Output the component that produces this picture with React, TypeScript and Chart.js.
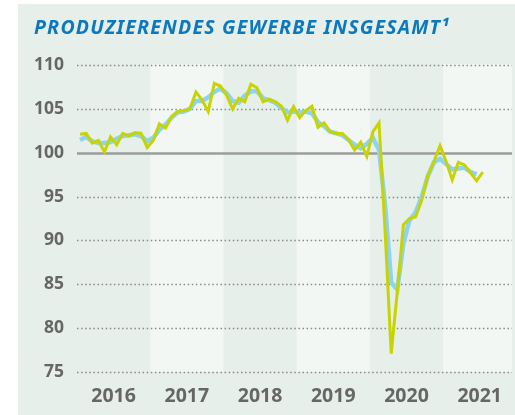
import React, { useEffect, useRef } from "react";
import { Chart, registerables } from "chart.js";

Chart.register(...registerables);

const titleText = "PRODUZIERENDES GEWERBE INSGESAMT¹";
const yearLabels = ["2016", "2017", "2018", "2019", "2020", "2021"];
const yTickValues = [75, 80, 85, 90, 95, 100, 105, 110];

// monthly index values, Jan 2016 – Jul 2021
const productionValues = [
  102.1, 102.2, 101.1, 101.4, 100.1, 101.8, 100.9, 102.2, 101.9, 102.3, 102.2, 100.6,
  101.4, 103.3, 102.8, 104.1, 104.7, 104.8, 105.0, 106.9, 106.0, 104.7, 107.9, 107.6,
  106.6, 105.0, 106.2, 105.8, 107.8, 107.4, 105.8, 106.1, 105.8, 105.3, 103.7, 105.25,
  104.0, 104.8, 105.3, 102.9, 103.4, 102.4, 102.2, 102.2, 101.5, 100.3, 101.2, 99.6,
  102.4, 103.4, 91.0, 77.1, 84.2, 91.8, 92.5, 92.7, 94.6, 97.4, 99.0, 100.8,
  99.0, 96.9, 98.9, 98.6, 97.7, 96.8, 97.8,
];

// smoothed trend, Jan 2016 – Jun 2021
const trendValues = [
  101.45, 101.8, 101.3, 101.1, 101.1, 101.2, 101.6, 101.9, 102.0, 102.1, 101.9, 101.3,
  101.7, 102.6, 103.2, 104.0, 104.6, 104.7, 105.0, 105.9, 105.9, 106.3, 106.95, 107.3,
  106.8, 105.9, 105.7, 106.5, 107.0, 107.0, 106.2, 106.0, 105.7, 105.1, 104.6, 104.7,
  104.6, 104.7, 104.5, 103.5, 103.0, 102.4, 102.2, 102.0, 101.45, 100.9, 100.5, 101.0,
  101.7, 100.3, 94.0, 85.2, 84.4, 89.7, 92.3, 93.2, 95.0, 97.3, 98.9, 99.3,
  98.7, 98.1, 98.2, 98.3, 97.8, 97.55,
];

const PANEL = "#e6efe9";
const BAND = "#f2f7f3";
const TEXT = "#666666";

const backgroundPlugin = {
  id: "bgPlugin",
  beforeDraw(chart: any) {
    const { ctx, chartArea, scales } = chart;
    const xs = scales.x;
    const ys = scales.y;
    ctx.save();
    ctx.fillStyle = PANEL;
    ctx.fillRect(18, 4, chart.width - 18, chart.height - 4);
    // alternating year bands
    yearLabels.forEach((_, i) => {
      if (i % 2 === 1) {
        const x0 = xs.getPixelForValue(i * 12);
        const x1 = Math.min(xs.getPixelForValue(i * 12 + 12), chartArea.right);
        ctx.fillStyle = BAND;
        ctx.fillRect(x0, chartArea.top - 1, x1 - x0, chartArea.bottom - chartArea.top + 1);
      }
    });
    // title
    ctx.fillStyle = "#0b78c0";
    ctx.font = "italic bold 19.5px 'Noto Sans'";
    ctx.textBaseline = "alphabetic";
    ctx.textAlign = "left";
    (ctx as any).letterSpacing = "1.2px";
    ctx.fillText(titleText, 34, 33.5);
    (ctx as any).letterSpacing = "0px";
    // grid lines
    yTickValues.forEach((v) => {
      const y = Math.round(ys.getPixelForValue(v)) + 0.5;
      ctx.beginPath();
      if (v === 100) {
        ctx.setLineDash([]);
        ctx.strokeStyle = "#9c9c9c";
        ctx.lineWidth = 2.5;
      } else {
        ctx.setLineDash([1.5, 2.6]);
        ctx.strokeStyle = "#8a8a8a";
        ctx.lineWidth = 1.5;
      }
      ctx.moveTo(chartArea.left, y);
      ctx.lineTo(chartArea.right, y);
      ctx.stroke();
    });
    ctx.restore();
  },
};

export default function App() {
  const canvasRef = useRef<HTMLCanvasElement | null>(null);

  useEffect(() => {
    if (!canvasRef.current) return;
    const chart = new Chart(canvasRef.current, {
      type: "line",
      data: {
        datasets: [
          {
            label: "Produktion",
            data: productionValues.map((v, i) => ({ x: i + 0.5, y: v })),
            borderColor: "#c8d400",
            borderWidth: 3,
            pointRadius: 0,
            tension: 0,
            fill: false,
          },
          {
            label: "Trend",
            data: trendValues.map((v, i) => ({ x: i + 0.5, y: v })),
            borderColor: "#8dd3f2",
            borderWidth: 4.5,
            pointRadius: 0,
            tension: 0,
            fill: false,
          },
        ],
      },
      options: {
        animation: false,
        responsive: false,
        layout: { padding: { top: 65, left: 0, right: 0, bottom: 0 } },
        plugins: {
          legend: { display: false },
          tooltip: { enabled: false },
          title: { display: false },
        },
        scales: {
          x: {
            type: "linear",
            min: 0,
            max: 71.3,
            grid: { display: false, drawTicks: false },
            border: { display: false },
            afterBuildTicks: (scale: any) => {
              scale.ticks = yearLabels.map((_, i) => ({ value: i * 12 + 6 }));
            },
            afterFit: (scale: any) => {
              scale.height = 43;
            },
            ticks: {
              autoSkip: false,
              maxRotation: 0,
              padding: 13,
              color: TEXT,
              font: { family: "'Noto Sans'", size: 19.5, weight: "bold" },
              callback: (v: any) => yearLabels[Math.round((Number(v) - 6) / 12)] ?? "",
            },
          },
          y: {
            type: "linear",
            min: 75,
            max: 110,
            grid: { display: false, drawTicks: false },
            border: { display: false },
            afterBuildTicks: (scale: any) => {
              scale.ticks = yTickValues.map((v) => ({ value: v }));
            },
            afterFit: (scale: any) => {
              scale.width = 77;
            },
            ticks: {
              padding: 13,
              color: TEXT,
              font: { family: "'Noto Sans'", size: 17.5, weight: "bold" },
            },
          },
        },
      },
      plugins: [backgroundPlugin],
    });
    return () => chart.destroy();
  }, []);

  return (
    <div style={{ position: "fixed", left: 0, top: 0, width: 515, height: 415, background: "#fff" }}>
      <canvas ref={canvasRef} width={515} height={415} style={{ width: 515, height: 415, display: "block" }} />
    </div>
  );
}
